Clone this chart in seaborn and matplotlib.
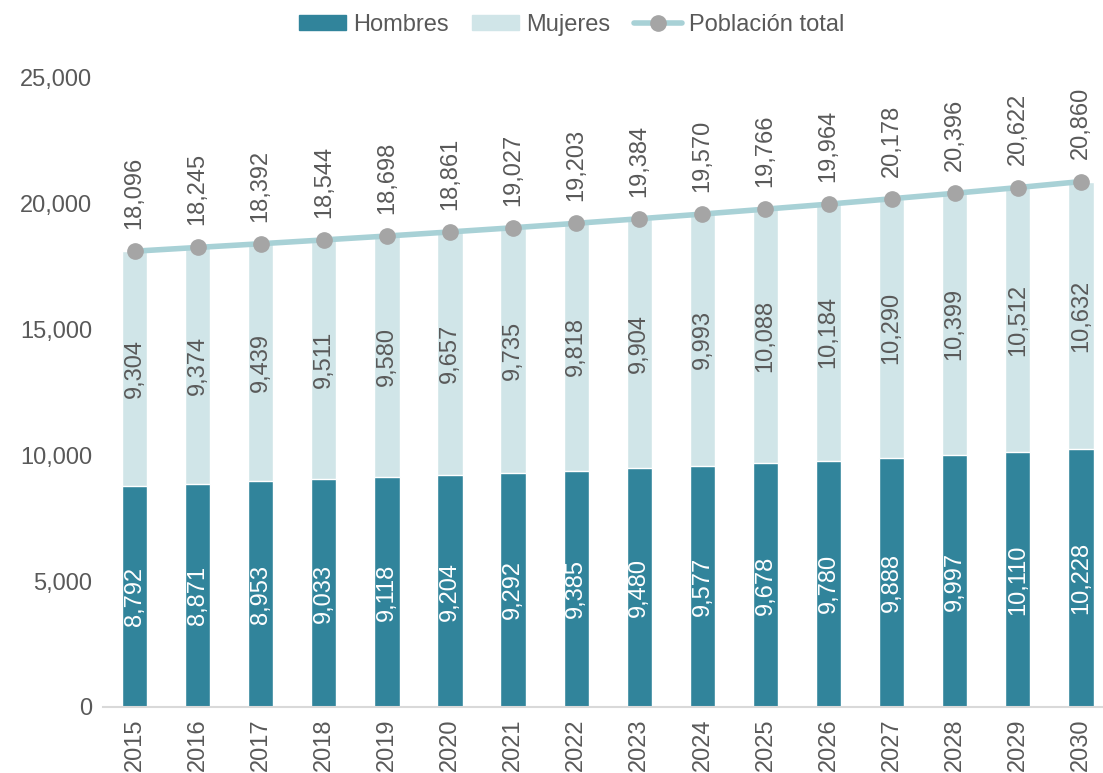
import numpy as np
import pandas as pd
import matplotlib
matplotlib.use("Agg")
import matplotlib.pyplot as plt
import seaborn as sns
from matplotlib.patches import Patch
from matplotlib.lines import Line2D

years = [str(y) for y in range(2015, 2031)]
hombres = [8792, 8871, 8953, 9033, 9118, 9204, 9292, 9385, 9480, 9577,
           9678, 9780, 9888, 9997, 10110, 10228]
mujeres = [9304, 9374, 9439, 9511, 9580, 9657, 9735, 9818, 9904, 9993,
           10088, 10184, 10290, 10399, 10512, 10632]
total = [18096, 18245, 18392, 18544, 18698, 18861, 19027, 19203, 19384, 19570,
         19766, 19964, 20178, 20396, 20622, 20860]

C_H = "#31849B"
C_M = "#D0E5E8"
C_LINE = "#A8D1D6"
C_DOT = "#A5A5A5"
C_TXT = "#595959"

sns.set_theme(style="white")
plt.rcParams["font.family"] = ["Liberation Sans", "DejaVu Sans"]

df = pd.DataFrame({"year": years, "hombres": hombres, "mujeres": mujeres, "total": total})

fig = plt.figure(figsize=(11.03, 7.73), dpi=100)
ax = fig.add_axes([0.0934, 0.0854, 0.9066, 0.8146])

# stacked look: full total bar in Mujeres colour, Hombres drawn over it
sns.barplot(data=df, x="year", y="total", color=C_M, width=0.4, saturation=1, ax=ax)
sns.barplot(data=df, x="year", y="hombres", color=C_H, width=0.4, saturation=1, ax=ax)
ax.plot(np.arange(len(years)), total, color=C_LINE, lw=4, zorder=3,
        marker="o", markersize=11, markerfacecolor=C_DOT, markeredgecolor=C_DOT)

for i in range(len(years)):
    ax.text(i, hombres[i] / 2, f"{hombres[i]:,}", rotation=90, ha="center", va="center",
            color="white", fontsize=17)
    ax.text(i, hombres[i] + mujeres[i] / 2, f"{mujeres[i]:,}", rotation=90, ha="center",
            va="center", color=C_TXT, fontsize=17)
    ax.annotate(f"{total[i]:,}", (i, total[i]), xytext=(0, 16), textcoords="offset points",
                rotation=90, ha="center", va="bottom", color=C_TXT, fontsize=17)

ax.set_ylim(0, 25000)
ax.set_xlim(-0.5, 15.35)
ax.set_yticks(range(0, 25001, 5000))
ax.set_yticklabels([f"{v:,}" for v in range(0, 25001, 5000)], color=C_TXT, fontsize=17)
ax.set_xticks(range(len(years)))
ax.set_xticklabels(years, rotation=90, color=C_TXT, fontsize=17)
ax.tick_params(axis="both", length=0, pad=8)
ax.set_xlabel("")
ax.set_ylabel("")
for s in ["top", "right", "left"]:
    ax.spines[s].set_visible(False)
ax.spines["bottom"].set_color("#D9D9D9")
ax.spines["bottom"].set_linewidth(1.5)

handles = [Patch(color=C_H, label="Hombres"),
           Patch(color=C_M, label="Mujeres"),
           Line2D([], [], color=C_LINE, lw=4, marker="o", markersize=11,
                  markerfacecolor=C_DOT, markeredgecolor=C_DOT, label="Población total")]
leg = fig.legend(handles=handles, loc="upper center", bbox_to_anchor=(0.518, 1.01), ncol=3,
                 frameon=False, fontsize=17, handlelength=2.0, handleheight=0.6,
                 columnspacing=1.0, handletextpad=0.3)
for t in leg.get_texts():
    t.set_color(C_TXT)

fig.savefig("out.png", dpi=100)
